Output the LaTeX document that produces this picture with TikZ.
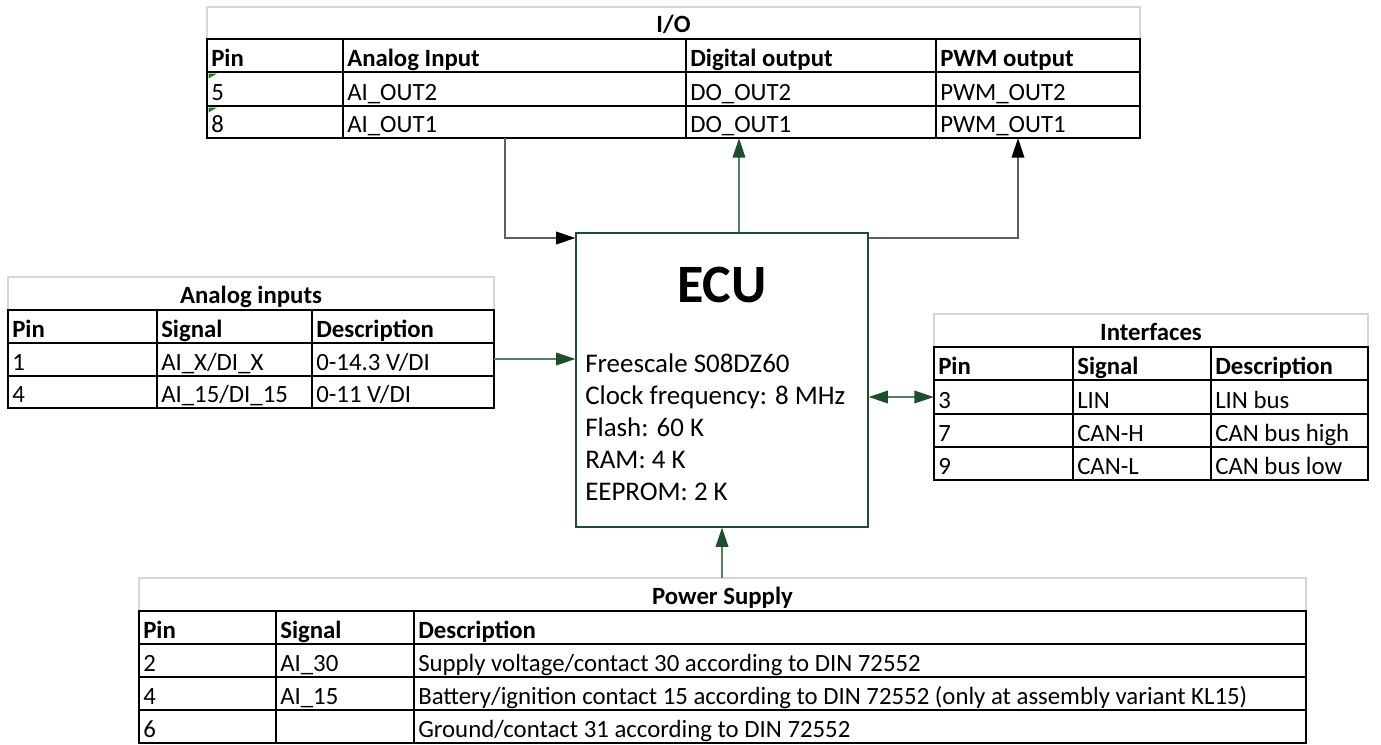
\documentclass[tikz,border=0pt]{standalone}
\usepackage{fontspec}
\setmainfont{Carlito}
\usetikzlibrary{arrows.meta,fit}
\definecolor{dkgreen}{RGB}{31,78,45}
\definecolor{lngreen}{RGB}{84,128,98}
\definecolor{gridgray}{RGB}{214,214,214}
\definecolor{lngray}{RGB}{95,95,95}
\definecolor{errgreen}{RGB}{30,120,40}
\tikzset{
  x=0.75pt, y=-0.75pt,
  blackline/.style={line width=1.95pt, black},
  gridline/.style={line width=1.2pt, gridgray},
  cell/.style={anchor=base west, inner sep=0pt, font=\fontsize{18.6}{22}\selectfont},
  hcell/.style={cell, font=\fontsize{18.6}{22}\selectfont\bfseries},
  ttl/.style={anchor=base, inner sep=0pt, font=\fontsize{18.6}{22}\selectfont\bfseries},
  ecutext/.style={anchor=base west, inner sep=0pt, font=\fontsize{20.2}{24}\selectfont},
  tablebox/.style={inner sep=0pt},
  gtip/.style={-{Triangle[length=14.5pt,width=9.5pt,color=dkgreen]}},
  gtips/.style={{Triangle[length=14.5pt,width=9.5pt,color=dkgreen]}-{Triangle[length=14.5pt,width=9.5pt,color=dkgreen]}},
  btip/.style={-{Triangle[length=14.5pt,width=9.5pt,color=black]}},
  gconn/.style={line width=1pt, lngreen},
  bconn/.style={line width=1pt, lngray},
  errmark/.style={fill=errgreen, draw=none}
}
\begin{document}
\begin{tikzpicture}
\useasboundingbox (0,0) rectangle (1381,744);
\fill[white] (0,0) rectangle (1381,744);

% ---------- I/O table ----------
\node[tablebox, fit={(207,7) (1140,138)}] (io) {};
\draw[gridline] (207,39) -- (207,7) -- (1140,7) -- (1140,39);
\draw[blackline] (207,39) rectangle (1140,138);
\foreach \y in {72,106} \draw[blackline] (207,\y) -- (1140,\y);
\foreach \x in {343,686,936} \draw[blackline] (\x,39) -- (\x,138);
\node[ttl] (iot) at (673.5,32) {I/O};
\node[hcell] (ioh1) at (211,66) {Pin};
\node[hcell] (ioh2) at (347,66) {Analog Input};
\node[hcell] (ioh3) at (690,66) {Digital output};
\node[hcell] (ioh4) at (940,66) {PWM output};
\node[cell] (io11) at (211,100) {5};
\node[cell] (io12) at (347,100) {AI\_OUT2};
\node[cell] (io13) at (690,100) {DO\_OUT2};
\node[cell] (io14) at (940,100) {PWM\_OUT2};
\node[cell] (io21) at (211,132) {8};
\node[cell] (io22) at (347,132) {AI\_OUT1};
\node[cell] (io23) at (690,132) {DO\_OUT1};
\node[cell] (io24) at (940,132) {PWM\_OUT1};
\fill[errmark] (208.5,73.5) -- (217,73.5) -- (208.5,78.5) -- cycle;
\fill[errmark] (208.5,107.5) -- (217,107.5) -- (208.5,112.5) -- cycle;

% ---------- Analog inputs table ----------
\node[tablebox, fit={(8,277) (494,408)}] (ain) {};
\draw[gridline] (8,310) -- (8,277) -- (494,277) -- (494,310);
\draw[blackline] (8,310) rectangle (494,408);
\foreach \y in {343,376} \draw[blackline] (8,\y) -- (494,\y);
\foreach \x in {157,312} \draw[blackline] (\x,310) -- (\x,408);
\node[ttl] (aint) at (251,303) {Analog inputs};
\node[hcell] (ainh1) at (12,337) {Pin};
\node[hcell] (ainh2) at (161,337) {Signal};
\node[hcell] (ainh3) at (316,337) {Description};
\node[cell] (ain11) at (12,370) {1};
\node[cell] (ain12) at (161,370) {AI\_X/DI\_X};
\node[cell] (ain13) at (316,370) {0-14.3 V/DI};
\node[cell] (ain21) at (12,402) {4};
\node[cell] (ain22) at (161,402) {AI\_15/DI\_15};
\node[cell] (ain23) at (316,402) {0-11 V/DI};

% ---------- Interfaces table ----------
\node[tablebox, fit={(934,314) (1368,480)}] (ifc) {};
\draw[gridline] (934,347) -- (934,314) -- (1368,314) -- (1368,347);
\draw[blackline] (934,347) rectangle (1368,480);
\foreach \y in {380,414,447} \draw[blackline] (934,\y) -- (1368,\y);
\foreach \x in {1073,1211} \draw[blackline] (\x,347) -- (\x,480);
\node[ttl] (ifct) at (1151,340) {Interfaces};
\node[hcell] (ifch1) at (938,374) {Pin};
\node[hcell] (ifch2) at (1077,374) {Signal};
\node[hcell] (ifch3) at (1215,374) {Description};
\node[cell] (ifc11) at (938,408) {3};
\node[cell] (ifc12) at (1077,408) {LIN};
\node[cell] (ifc13) at (1215,408) {LIN bus};
\node[cell] (ifc21) at (938,441) {7};
\node[cell] (ifc22) at (1077,441) {CAN-H};
\node[cell] (ifc23) at (1215,441) {CAN bus high};
\node[cell] (ifc31) at (938,474) {9};
\node[cell] (ifc32) at (1077,474) {CAN-L};
\node[cell] (ifc33) at (1215,474) {CAN bus low};

% ---------- Power supply table ----------
\node[tablebox, fit={(139,578) (1306,743)}] (pwr) {};
\draw[gridline] (139,611) -- (139,578) -- (1306,578) -- (1306,611);
\draw[blackline] (139,611) rectangle (1306,743);
\foreach \y in {644,677,710} \draw[blackline] (139,\y) -- (1306,\y);
\foreach \x in {276,414} \draw[blackline] (\x,611) -- (\x,743);
\node[ttl] (pwrt) at (722.5,604) {Power Supply};
\node[hcell] (pwrh1) at (143,638) {Pin};
\node[hcell] (pwrh2) at (280,638) {Signal};
\node[hcell] (pwrh3) at (418,638) {Description};
\node[cell] (pwr11) at (143,671) {2};
\node[cell] (pwr12) at (280,671) {AI\_30};
\node[cell] (pwr13) at (418,671) {Supply voltage/contact 30 according to DIN 72552};
\node[cell] (pwr21) at (143,704) {4};
\node[cell] (pwr22) at (280,704) {AI\_15};
\node[cell] (pwr23) at (418,704) {Battery/ignition contact 15 according to DIN 72552 (only at assembly variant KL15)};
\node[cell] (pwr31) at (143,737) {6};
\node[cell] (pwr33) at (418,737) {Ground/contact 31 according to DIN 72552};

% ---------- ECU ----------
\node[fit={(576,233) (868,527)}, inner sep=0pt, draw=dkgreen, line width=0.9pt] (ecu) {};
\node[anchor=base, inner sep=0pt, font=\fontsize{40.5}{48}\selectfont\bfseries] (ecut) at (722,302) {ECU};
\node[ecutext] (ecul1) at (585,372) {Freescale S08DZ60};
\node[ecutext] (ecul2) at (585,404) {Clock frequency: 8 MHz};
\node[ecutext] (ecul3) at (585,436) {Flash: 60 K};
\node[ecutext] (ecul4) at (585,468) {RAM: 4 K};
\node[ecutext] (ecul5) at (585,500) {EEPROM: 2 K};

% ---------- connectors ----------
\coordinate (kai) at (505,238);
\coordinate (kdo) at (739,200);
\coordinate (kpwm) at (1018,238);
\coordinate (kain) at (520,359);
\coordinate (kifc) at (900,397);
\coordinate (kpwr) at (722,560);
\draw[bconn, btip] (io.south -| kai) -- (kai) -- (ecu.west |- kai);
\draw[gconn, gtip] (ecu.north -| kdo) -- (io.south -| kdo);
\draw[bconn, btip] (ecu.east |- kpwm) -- (kpwm) -- (io.south -| kpwm);
\draw[gconn, gtip] (ain.east |- kain) -- (ecu.west |- kain);
\draw[gconn, gtips] (ecu.east |- kifc) -- (ifc.west |- kifc);
\draw[gconn, gtip] (pwr.north -| kpwr) -- (ecu.south -| kpwr);
\end{tikzpicture}
\end{document}
